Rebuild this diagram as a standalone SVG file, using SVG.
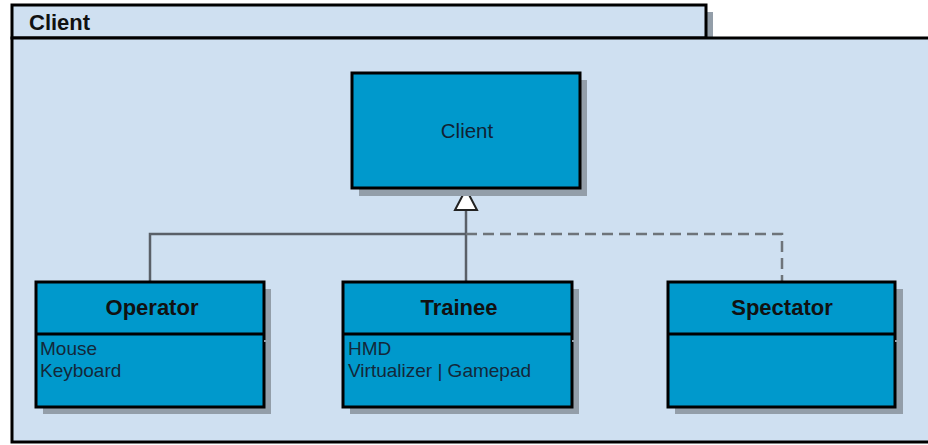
<svg xmlns="http://www.w3.org/2000/svg" width="928" height="445" viewBox="0 0 928 445">
  <style>
    .pkg { fill: #cfe0f1; stroke: #000; stroke-width: 3; }
    .shadow { fill: #939ea9; }
    .box { fill: #0099cc; stroke: #000; stroke-width: 3; }
    .div { stroke: #000; stroke-width: 3; }
    .sdiv { stroke: #939ea9; stroke-width: 2; }
    .title { font-family: "Liberation Sans", Arial, sans-serif; font-weight: bold; font-size: 22px; fill: #111; text-anchor: middle; }
    .name { font-family: "Liberation Sans", Arial, sans-serif; font-size: 20.5px; fill: #112233; text-anchor: middle; }
    .item { font-family: "Liberation Sans", Arial, sans-serif; font-size: 19px; fill: #13283a; }
    .edge { fill: none; stroke: #5a6068; stroke-width: 2.5; }
    .dashed { fill: none; stroke: #6e747a; stroke-width: 2.5; stroke-dasharray: 11 6; }
  </style>

  <!-- package frame -->
  <g id="package-client">
    <rect class="shadow" x="706" y="12" width="7" height="26"/>
    <rect class="pkg" x="12" y="5" width="694" height="33"/>
    <rect class="pkg" x="12" y="38" width="930" height="404"/>
    <text x="29" y="30" style="font-family:'Liberation Sans',Arial,sans-serif;font-weight:bold;font-size:22px;fill:#111">Client</text>
  </g>

  <!-- connectors -->
  <g id="connectors">
    <polyline class="edge" points="150,282 150,234 466,234"/>
    <line class="edge" x1="466" y1="282" x2="466" y2="210"/>
    <polyline class="dashed" points="466,234 782,234 782,282"/>
    <polygon points="466,189 455,210 477,210" fill="#fff" stroke="#222" stroke-width="2"/>
  </g>

  <!-- base class -->
  <g id="node-client">
    <rect class="shadow" x="359" y="80" width="228" height="116"/>
    <rect class="box" x="352" y="73" width="228" height="115"/>
    <text class="name" x="467" y="138">Client</text>
  </g>

  <g id="node-operator">
    <rect class="shadow" x="43" y="289" width="228" height="125"/>
    <rect class="box" x="36" y="282" width="228" height="125"/>
    <line class="div" x1="36" y1="334" x2="264" y2="334"/>
    <line class="sdiv" x1="264" y1="341" x2="271" y2="341"/>
    <text class="title" x="152" y="315">Operator</text>
    <text class="item" x="40" y="355">Mouse</text>
    <text class="item" x="40" y="377">Keyboard</text>
  </g>

  <g id="node-trainee">
    <rect class="shadow" x="350" y="289" width="229" height="125"/>
    <rect class="box" x="343" y="282" width="229" height="125"/>
    <line class="div" x1="343" y1="334" x2="572" y2="334"/>
    <line class="sdiv" x1="572" y1="341" x2="579" y2="341"/>
    <text class="title" x="459" y="315">Trainee</text>
    <text class="item" x="348" y="355">HMD</text>
    <text class="item" x="348" y="377">Virtualizer | Gamepad</text>
  </g>

  <g id="node-spectator">
    <rect class="shadow" x="675" y="289" width="228" height="125"/>
    <rect class="box" x="668" y="282" width="227" height="125"/>
    <line class="div" x1="668" y1="334" x2="895" y2="334"/>
    <line class="sdiv" x1="895" y1="341" x2="902" y2="341"/>
    <text class="title" x="782" y="315">Spectator</text>
  </g>
</svg>
